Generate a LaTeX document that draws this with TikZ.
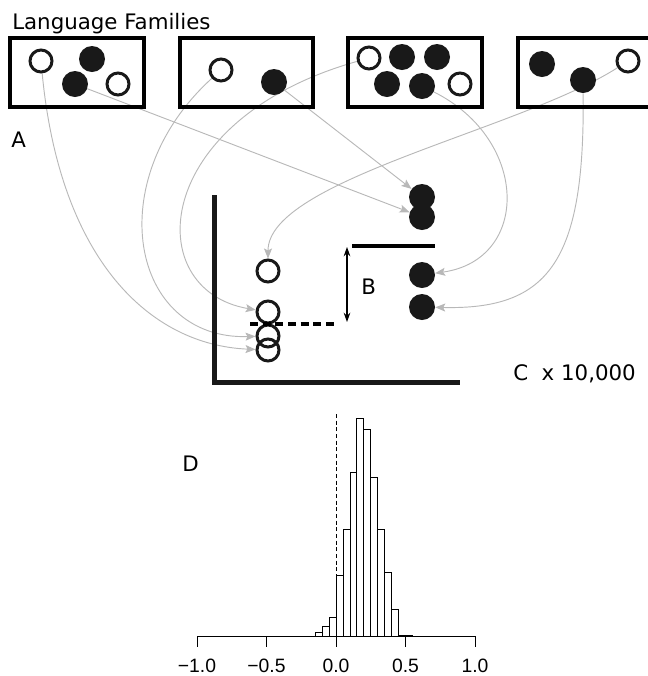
\documentclass[tikz,border=0pt]{standalone}
\usepackage{fontspec}
\setmainfont{DejaVu Sans}
\newfontfamily\rfont{Liberation Sans}
\usetikzlibrary{arrows.meta}
\pgfdeclarelayer{background}
\pgfsetlayers{background,main}
\colorlet{flowgray}{black!28}
\tikzset{
  famframe/.style={line width=2.4pt},
  full/.style={circle,fill=black!90,inner sep=0pt,minimum size=19.5pt},
  hollow/.style={circle,draw=black!90,line width=2.25pt,inner sep=0pt,minimum size=16.5pt},
  flow/.style={flowgray,line width=0.7pt,-{Stealth[length=7.5pt,width=6pt,inset=1.5pt]}},
  lbl/.style={font=\fontsize{16}{19}\selectfont,inner sep=0pt,anchor=base west},
  axisline/.style={line width=3.75pt,black!90},
  bar/.style={line width=0.6pt,fill=white},
  ticklbl/.style={font=\rfont\fontsize{14.5}{17}\selectfont,inner sep=0pt,anchor=base}
}

\begin{document}
\begin{tikzpicture}[x=0.75pt,y=-0.75pt]
    \useasboundingbox (0,0) rectangle (648,676);
    % Labels
    \node[lbl] (title) at (12,29) {Language Families};
    \node[lbl] (la) at (11,147) {A};
    \node[lbl] (lb) at (361,294) {B};
    \node[lbl] (lc) at (513,380) {C\ \ x 10,000};
    \node[lbl] (ld) at (182,471) {D};
    % Families
    \draw[famframe]
      ( 10,38) rectangle (144,107)
      (180,38) rectangle (313,107)
      (348,38) rectangle (482,107)
      (518,38) rectangle (652,107);
    \node[hollow] (a1) at ( 41,61) {};
    \node[full]   (a2) at ( 92,59) {};
    \node[full]   (a3) at ( 75,84) {};
    \node[hollow] (a4) at (118,84) {};
    \node[hollow] (b1) at (221,70) {};
    \node[full]   (b2) at (274,82) {};
    \node[hollow] (c1) at (369,58) {};
    \node[full]   (c2) at (402,57) {};
    \node[full]   (c3) at (437,57) {};
    \node[full]   (c4) at (387,84) {};
    \node[full]   (c5) at (422,86) {};
    \node[hollow] (c6) at (460,84) {};
    \node[full]   (d1) at (542,64) {};
    \node[full]   (d2) at (583,80) {};
    \node[hollow] (d3) at (628,61) {};
    % Sample plot
    \draw[axisline] (214,195) -- (214,382) -- (460,382);
    \node[hollow] (o1) at (268,271) {};
    \node[hollow] (o2) at (268,312) {};
    \node[hollow] (o3) at (268,336) {};
    \node[hollow] (o4) at (268,350) {};
    \node[full] (f1) at (422,197) {};
    \node[full] (f2) at (422,217) {};
    \node[full] (f3) at (422,275) {};
    \node[full] (f4) at (422,307) {};
    \draw[line width=2.4pt,dash pattern=on 6pt off 3.5pt] (250,324) -- (337,324);
    \draw[line width=2.4pt] (352,246) -- (435,246);
    \coordinate (btop) at (347,247);
    \coordinate (bbot) at (347,322);
    \draw[line width=0.8pt,{Stealth[length=7pt,width=5pt]}-{Stealth[length=7pt,width=5pt]}]
      (btop) -- (bbot);
    % Sampling arrows
    \begin{pgfonlayer}{background}
    \draw[flow] (a1) .. controls +(19,199) and +(-118,-5) .. (o4);
    \draw[flow] (a3) -- (f2);
    \draw[flow] (b2) -- (f1);
    \draw[flow] (b1) .. controls +(-121,110) and +(-138,4) .. (o3);
    \draw[flow] (c1) .. controls +(-219,62) and +(-128,-22) .. (o2);
    \draw[flow] (d3) .. controls +(-108,69) and +(0,-91) .. (o1);
    \draw[flow] (c5) .. controls +(108,54) and +(108,-15) .. (f3);
    \draw[flow] (d2) .. controls +(2,180) and +(128,3) .. (f4);
    \end{pgfonlayer}
    % Histogram
    \draw[line width=0.6pt,dash pattern=on 3pt off 2pt] (336,414) -- (336,636);
    \foreach \l/\h in {-0.15/4,-0.10/10,-0.05/19,0.00/61,0.05/107,0.10/164,
                       0.15/218,0.20/207,0.25/159,0.30/107,0.35/64,0.40/27,
                       0.45/1,0.50/1}
      \draw[bar] ({336+139*\l},636) rectangle ({336+139*(\l+0.05)},{636-\h});
    \draw[line width=0.6pt] (197,636) -- (475,636);
    \foreach \v/\t [count=\i] in {-1/{−1.0},-0.5/{−0.5},0/{0.0},0.5/{0.5},1/{1.0}} {
      \draw[line width=0.6pt] ({336+139*\v},636) -- ++(0,11);
      \node[ticklbl] (tick\i) at ({336+139*\v},672) {\t};
    }
  \end{tikzpicture}
\end{document}
